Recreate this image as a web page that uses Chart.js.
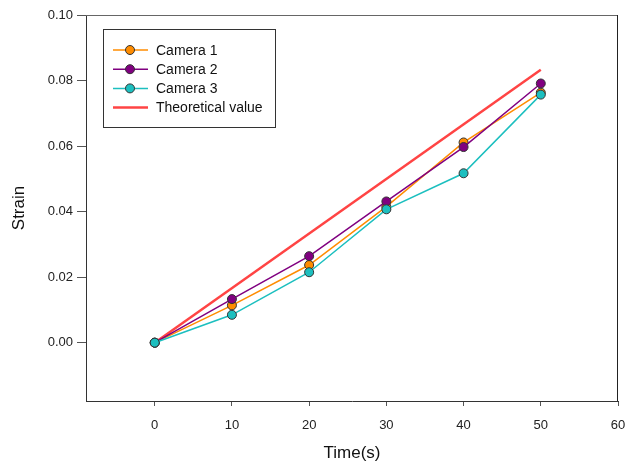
<!DOCTYPE html>
<html>
<head>
<meta charset="utf-8">
<script src="https://cdn.jsdelivr.net/npm/chart.js@4.4.1/dist/chart.umd.min.js"></script>
<style>
  body { margin: 0; background: #fff; }
  #wrap { width: 638px; height: 464px; }
</style>
</head>
<body>
<div id="wrap"><canvas id="chart" width="638" height="464"></canvas></div>
<script>
// data
const times = [0, 10, 20, 30, 40, 50];
const camera1 = [0, 0.0114, 0.0237, 0.0415, 0.0611, 0.0763];
const camera2 = [0, 0.0133, 0.0264, 0.0431, 0.0597, 0.0791];
const camera3 = [0, 0.0085, 0.0215, 0.0407, 0.0517, 0.0757];
const theoryTimes = [0, 50];
const theoryValues = [0, 0.0833];
const xTicks = [0, 10, 20, 30, 40, 50, 60];
const yTicks = [0, 0.02, 0.04, 0.06, 0.08, 0.10];

const FONT = "'Liberation Sans', Arial, sans-serif";

const toPoints = (xs, ys) => xs.map((x, i) => ({ x: x, y: ys[i] }));

function series(label, values, color, order) {
    return {
        label: label,
        data: toPoints(times, values),
        order: order,
        showLine: true,
        borderColor: color,
        borderWidth: 1.5,
        backgroundColor: color,
        pointBackgroundColor: color,
        pointBorderColor: '#333',
        pointBorderWidth: 1,
        pointRadius: 4.5,
        tension: 0
    };
}

// box around plot (top + right) and the legend inside the plot
const framePlugin = {
    id: 'frame',
    afterDraw(chart) {
        const ctx = chart.ctx;
        const a = chart.chartArea;
        ctx.save();
        ctx.lineWidth = 1;
        ctx.strokeStyle = '#666';
        ctx.beginPath();
        ctx.moveTo(a.left, a.top + 0.5);
        ctx.lineTo(a.right, a.top + 0.5);
        ctx.stroke();
        ctx.strokeStyle = '#222';
        ctx.beginPath();
        ctx.moveTo(a.right - 0.5, a.top);
        ctx.lineTo(a.right - 0.5, a.bottom);
        ctx.stroke();

        // legend
        const bx = 103, by = 29, bw = 172, bh = 98;
        ctx.strokeStyle = '#333';
        ctx.strokeRect(bx + 0.5, by + 0.5, bw, bh);
        ctx.font = '14px ' + FONT;
        ctx.textBaseline = 'middle';
        chart.data.datasets.forEach((ds, i) => {
            const y = 50 + i * 19.2;
            ctx.strokeStyle = ds.borderColor;
            ctx.lineWidth = ds.borderWidth;
            ctx.beginPath();
            ctx.moveTo(113, y);
            ctx.lineTo(148, y);
            ctx.stroke();
            if (ds.pointRadius > 0) {
                ctx.beginPath();
                ctx.arc(130, y, ds.pointRadius, 0, Math.PI * 2);
                ctx.fillStyle = ds.pointBackgroundColor;
                ctx.fill();
                ctx.lineWidth = 1;
                ctx.strokeStyle = '#333';
                ctx.stroke();
            }
            ctx.fillStyle = '#111';
            ctx.fillText(ds.label, 156, y + 1);
        });
        ctx.restore();
    }
};

new Chart(document.getElementById('chart'), {
    type: 'scatter',
    data: {
        datasets: [
            series('Camera 1', camera1, '#ff8c00', 3),
            series('Camera 2', camera2, '#800080', 2),
            series('Camera 3', camera3, '#1cbfbf', 1),
            {
                label: 'Theoretical value',
                data: toPoints(theoryTimes, theoryValues),
                order: 4,
                showLine: true,
                borderColor: '#ff4444',
                borderWidth: 2.5,
                pointRadius: 0,
                tension: 0
            }
        ]
    },
    options: {
        responsive: false,
        animation: false,
        layout: { padding: { left: 0, right: 20, top: 15, bottom: 0 } },
        plugins: {
            legend: { display: false },
            tooltip: { enabled: false }
        },
        scales: {
            x: {
                type: 'linear',
                min: -8.9,
                max: 60,
                afterBuildTicks: (scale) => { scale.ticks = xTicks.map(v => ({ value: v })); },
                afterFit: (scale) => { scale.height = 63; },
                grid: { drawOnChartArea: false, drawTicks: true, tickLength: 5, color: '#555' },
                border: { color: '#333', width: 1 },
                ticks: { color: '#222', padding: 12, font: { family: FONT, size: 13 }, maxRotation: 0 },
                title: { display: true, text: 'Time(s)', color: '#111', font: { family: FONT, size: 17 }, padding: { top: 2, bottom: 0 } }
            },
            y: {
                min: -0.0178,
                max: 0.10,
                afterBuildTicks: (scale) => { scale.ticks = yTicks.map(v => ({ value: v })); },
                afterFit: (scale) => { scale.width = 86; },
                grid: { drawOnChartArea: false, drawTicks: true, tickLength: 9, color: '#555' },
                border: { color: '#333', width: 1 },
                ticks: { color: '#222', padding: 4, font: { family: FONT, size: 13 }, callback: (v) => v.toFixed(2) },
                title: { display: true, text: 'Strain', color: '#111', font: { family: FONT, size: 17 }, padding: { top: 9, bottom: 0 } }
            }
        }
    },
    plugins: [framePlugin]
});
</script>
</body>
</html>
